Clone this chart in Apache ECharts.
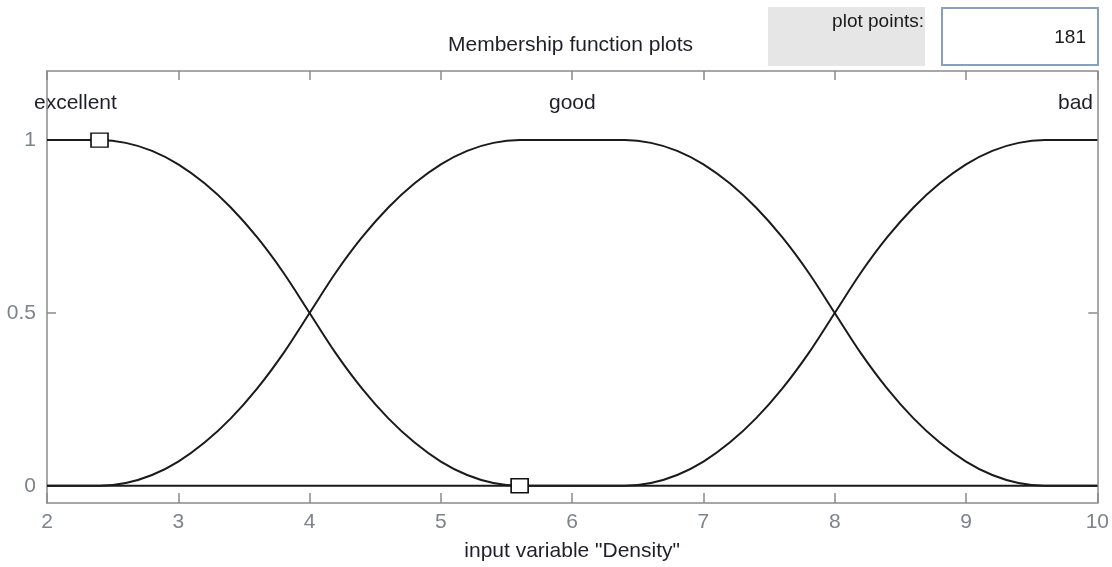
<!DOCTYPE html>
<html>
<head>
<meta charset="utf-8">
<script src="https://cdn.jsdelivr.net/npm/echarts@6/dist/echarts.min.js"></script>
<style>
  html, body { margin: 0; padding: 0; background: #fff; }
  #mfChart { width: 1112px; height: 567px; }
</style>
</head>
<body>
<div id="mfChart"></div>
<script>
// x positions of the sampled curve points
var xs = [2.0, 2.2, 2.4, 2.6, 2.8, 3.0, 3.2, 3.4, 3.6, 3.8, 4.0, 4.2, 4.4, 4.6, 4.8, 5.0, 5.2, 5.4, 5.6,
  5.8, 6.0, 6.2, 6.4, 6.6, 6.8, 7.0, 7.2, 7.4, 7.6, 7.8, 8.0, 8.2, 8.4, 8.6, 8.8, 9.0, 9.2, 9.4, 9.6, 9.8, 10.0];

// membership values
var excellent = [1, 1, 1, 0.992, 0.969, 0.93, 0.875, 0.805, 0.719, 0.617, 0.5, 0.383, 0.281, 0.195, 0.125, 0.07, 0.031, 0.008, 0,
  0, 0, 0, 0, 0, 0, 0, 0, 0, 0, 0, 0, 0, 0, 0, 0, 0, 0, 0, 0, 0, 0];
var good = [0, 0, 0, 0.008, 0.031, 0.07, 0.125, 0.195, 0.281, 0.383, 0.5, 0.617, 0.719, 0.805, 0.875, 0.93, 0.969, 0.992, 1,
  1, 1, 1, 1, 0.992, 0.969, 0.93, 0.875, 0.805, 0.719, 0.617, 0.5, 0.383, 0.281, 0.195, 0.125, 0.07, 0.031, 0.008, 0, 0, 0];
var bad = [0, 0, 0, 0, 0, 0, 0, 0, 0, 0, 0, 0, 0, 0, 0, 0, 0, 0, 0,
  0, 0, 0, 0, 0.008, 0.031, 0.07, 0.125, 0.195, 0.281, 0.383, 0.5, 0.617, 0.719, 0.805, 0.875, 0.93, 0.969, 0.992, 1, 1, 1];

// selected MF parameter handles
var handles = [[2.4, 1], [5.6, 0]];

var yTicks = [0, 0.5, 1];
var mfNames = ['excellent', 'good', 'bad'];

function pairs(ys) {
  return xs.map(function (x, i) { return [x, ys[i]]; });
}

var myChart = echarts.init(document.getElementById('mfChart'));

var axisGrey = '#8a8a8a';
var labelGrey = '#7d838c';
var font = 'Liberation Sans, Arial, sans-serif';

function curve(name, ys) {
  return {
    name: name,
    type: 'line',
    data: pairs(ys),
    showSymbol: false,
    smooth: 0.3,
    lineStyle: { color: '#1a1a1a', width: 2 },
    silent: true
  };
}

var option = {
  animation: false,
  backgroundColor: '#fff',
  grid: { left: 47, right: 14, top: 71, bottom: 62 },
  xAxis: [
    {
      type: 'value',
      min: 2,
      max: 10,
      interval: 1,
      position: 'bottom',
      name: 'input variable "Density"',
      nameLocation: 'middle',
      nameGap: 38,
      nameTextStyle: { color: '#1f1f2a', fontSize: 21, fontFamily: font },
      axisLine: { show: true, onZero: false, lineStyle: { color: axisGrey, width: 1.5 } },
      axisTick: { inside: true, length: 10, lineStyle: { color: axisGrey, width: 1.5 } },
      axisLabel: { color: labelGrey, fontSize: 21, fontFamily: font, margin: 9 },
      splitLine: { show: false }
    },
    {
      type: 'value',
      min: 2,
      max: 10,
      interval: 1,
      position: 'top',
      axisLine: { show: true, onZero: false, lineStyle: { color: axisGrey, width: 1.5 } },
      axisTick: { inside: true, length: 9, lineStyle: { color: axisGrey, width: 1.5 } },
      axisLabel: { show: false },
      splitLine: { show: false }
    }
  ],
  yAxis: [
    {
      type: 'value',
      min: -0.05,
      max: 1.2,
      position: 'left',
      axisLine: { show: true, onZero: false, lineStyle: { color: axisGrey, width: 1.5 } },
      axisTick: { show: true, inside: true, length: 9, customValues: yTicks, lineStyle: { color: axisGrey, width: 1.5 } },
      axisLabel: { color: labelGrey, fontSize: 21, fontFamily: font, margin: 11, customValues: yTicks },
      splitLine: { show: false }
    },
    {
      type: 'value',
      min: -0.05,
      max: 1.2,
      position: 'right',
      axisLine: { show: true, onZero: false, lineStyle: { color: axisGrey, width: 1.5 } },
      axisTick: { show: true, inside: true, length: 9, customValues: yTicks, lineStyle: { color: axisGrey, width: 1.5 } },
      axisLabel: { show: false, customValues: yTicks },
      splitLine: { show: false }
    }
  ],
  series: [
    curve(mfNames[0], excellent),
    curve(mfNames[1], good),
    curve(mfNames[2], bad),
    {
      name: 'handles',
      type: 'scatter',
      data: handles,
      symbol: 'rect',
      symbolSize: [17, 14],
      itemStyle: { color: '#fff', borderColor: '#111', borderWidth: 1.5, opacity: 1 },
      z: 5,
      silent: true
    }
  ],
  graphic: [
    // title
    { type: 'text', left: 448, top: 35, style: { text: 'Membership function plots', fill: '#1f1f2a', font: '21px ' + font } },
    // MF names
    { type: 'text', left: 34, top: 93, style: { text: mfNames[0], fill: '#1f1f2a', font: '21px ' + font } },
    { type: 'text', left: 549, top: 93, style: { text: mfNames[1], fill: '#1f1f2a', font: '21px ' + font } },
    { type: 'text', right: 19, top: 93, style: { text: mfNames[2], fill: '#1f1f2a', font: '21px ' + font } },
    // plot points panel
    { type: 'rect', shape: { x: 768, y: 7, width: 157, height: 59 }, style: { fill: '#e6e6e6' } },
    { type: 'text', right: 188, top: 12, style: { text: 'plot points:', fill: '#1a1a1a', font: '19px ' + font } },
    { type: 'rect', shape: { x: 942, y: 8, width: 156, height: 57 }, style: { fill: '#fff', stroke: '#86a0bd', lineWidth: 2 } },
    { type: 'text', right: 26, top: 28, style: { text: '181', fill: '#1a1a1a', font: '19px ' + font } }
  ]
};

option && myChart.setOption(option);
</script>
</body>
</html>
